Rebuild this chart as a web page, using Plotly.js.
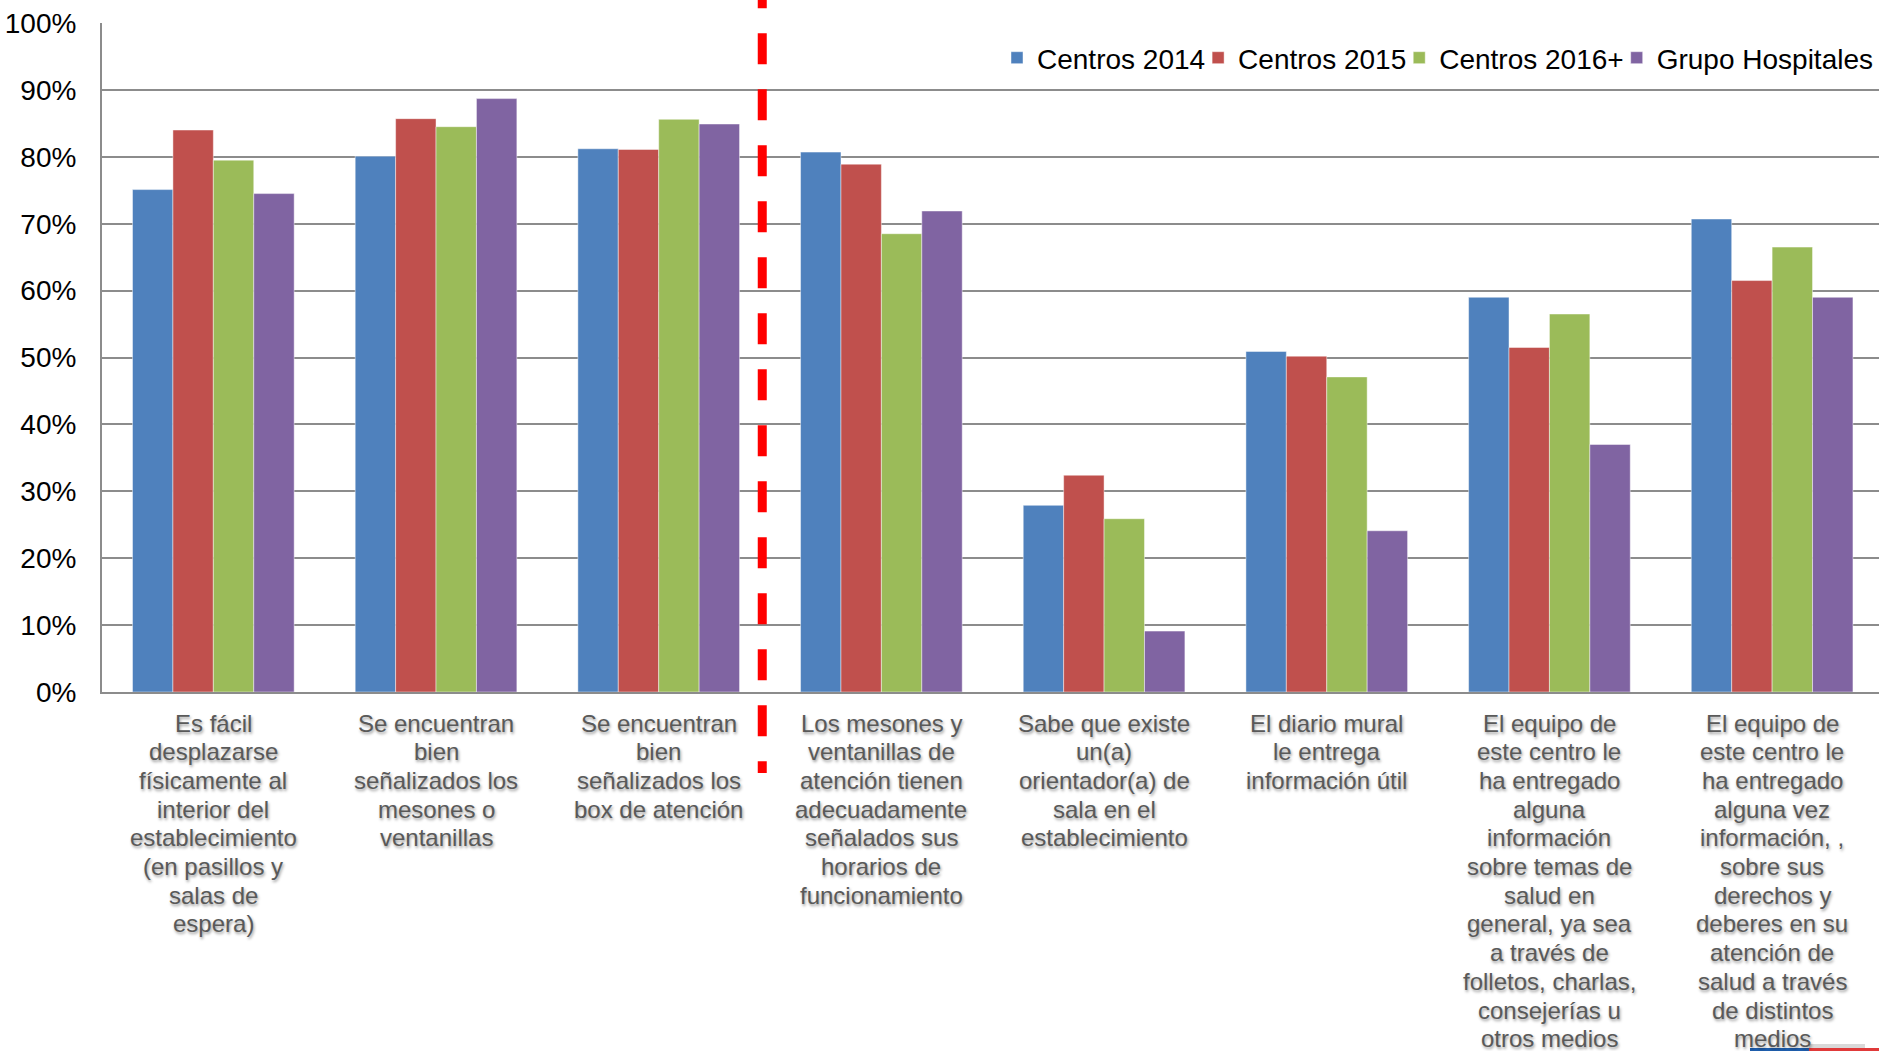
<!DOCTYPE html>
<html>
<head>
<meta charset="utf-8">
<script src="https://cdn.plot.ly/plotly-3.0.1.min.js"></script>
<style>
  html, body { margin: 0; padding: 0; background: #ffffff; }
  #chart { width: 1879px; height: 1051px; }
</style>
</head>
<body>
<div id="chart"></div>
<script>
// Survey items, one wrapped label per group (each entry is a list of lines)
const labelLines = [
  ["Es fácil", "desplazarse", "físicamente al", "interior del", "establecimiento", "(en pasillos y", "salas de", "espera)"],
  ["Se encuentran", "bien", "señalizados los", "mesones o", "ventanillas"],
  ["Se encuentran", "bien", "señalizados los", "box de atención"],
  ["Los mesones y", "ventanillas de", "atención tienen", "adecuadamente", "señalados sus", "horarios de", "funcionamiento"],
  ["Sabe que existe", "un(a)", "orientador(a) de", "sala en el", "establecimiento"],
  ["El diario mural", "le entrega", "información útil"],
  ["El equipo de", "este centro le", "ha entregado", "alguna", "información", "sobre temas de", "salud en", "general, ya sea", "a través de", "folletos, charlas,", "consejerías u", "otros medios"],
  ["El equipo de", "este centro le", "ha entregado", "alguna vez", "información, ,", "sobre sus", "derechos y", "deberes en su", "atención de", "salud a través", "de distintos", "medios"]
];
const categories = labelLines.map(l => l.join(" "));

// Percentages per series
const seriesNames = ["Centros 2014", "Centros 2015", "Centros 2016+", "Grupo Hospitales"];
const centros2014 = [75.1, 80.1, 81.2, 80.7, 27.9, 50.9, 59.0, 70.7];
const centros2015 = [84.0, 85.7, 81.1, 78.9, 32.4, 50.2, 51.5, 61.5];
const centros2016 = [79.5, 84.5, 85.6, 68.5, 25.9, 47.1, 56.5, 66.5];
const hospitales  = [74.5, 88.7, 84.9, 71.9,  9.1, 24.1, 37.0, 59.0];
const seriesValues = [centros2014, centros2015, centros2016, hospitales];
const seriesColors = ["#4F81BD", "#C0504D", "#9BBB59", "#8064A2"];

const yTicks = [0, 10, 20, 30, 40, 50, 60, 70, 80, 90, 100];

const FONT = "Liberation Sans, Arial, Helvetica, sans-serif";

const traces = seriesValues.map((vals, i) => ({
  type: "bar",
  name: seriesNames[i],
  x: categories,
  y: vals,
  marker: {
    color: seriesColors[i],
    line: { color: "rgba(255,255,255,0.45)", width: 1 }
  },
  hoverinfo: "skip"
}));

// Wrapped category labels, one annotation per line below the axis
const LINE_STEP = 28.7;
const FIRST_LINE = 31;
const annotations = [];
labelLines.forEach((lines, ci) => {
  lines.forEach((txt, li) => {
    annotations.push({
      x: categories[ci], xref: "x",
      y: 0, yref: "paper",
      yanchor: "middle", xanchor: "center",
      yshift: -(FIRST_LINE + li * LINE_STEP),
      text: txt,
      showarrow: false,
      font: {
        family: FONT, size: 24, color: "#595959",
        shadow: "1px 2px 3px rgba(0,0,0,0.40)"
      }
    });
  });
});

const gridColor = "#8c8c8c";

const layout = {
  width: 1879,
  height: 1051,
  margin: { l: 102, r: 0, t: 23, b: 359, pad: 0, autoexpand: false },
  paper_bgcolor: "#ffffff",
  plot_bgcolor: "#ffffff",
  barmode: "group",
  bargap: 0.274,
  bargroupgap: 0,
  showlegend: true,
  legend: {
    orientation: "h",
    xref: "paper", x: 1.0, xanchor: "right",
    yref: "paper", y: 0.9477, yanchor: "middle",
    font: { family: FONT, size: 28, color: "#000000" },
    bgcolor: "rgba(0,0,0,0)",
    borderwidth: 0,
    indentation: -12,
    itemclick: false,
    itemdoubleclick: false,
    traceorder: "normal"
  },
  xaxis: {
    type: "category",
    range: [-0.5, 7.48],
    showticklabels: false,
    ticks: "",
    showgrid: false,
    showline: true,
    linecolor: gridColor,
    linewidth: 2,
    zeroline: false,
    fixedrange: true
  },
  yaxis: {
    range: [0, 100],
    tickvals: yTicks,
    ticktext: yTicks.map(v => v + "%"),
    ticks: "",
    ticklabelstandoff: 18,
    tickfont: { family: FONT, size: 28, color: "#000000" },
    showgrid: true,
    gridcolor: gridColor,
    gridwidth: 2,
    showline: true,
    linecolor: gridColor,
    linewidth: 2,
    zeroline: false,
    automargin: false,
    fixedrange: true
  },
  annotations: annotations,
  shapes: [
    // dashed red divider between the first three items and the rest
    {
      type: "line",
      xref: "x", yref: "paper",
      x0: 2.465, x1: 2.465,
      y0: 1.0683, y1: -0.1211,
      line: { color: "#FF0000", width: 9, dash: "31px,25px" }
    },
    // corner stripe
    {
      type: "line", xref: "paper", yref: "paper",
      x0: 0.9274, x1: 0.9606, y0: -0.5351, y1: -0.5351,
      line: { color: "#1F5FAF", width: 4 }
    },
    {
      type: "line", xref: "paper", yref: "paper",
      x0: 0.9606, x1: 1.0, y0: -0.5351, y1: -0.5351,
      line: { color: "#E03A3A", width: 4 }
    },
    {
      type: "line", xref: "paper", yref: "paper",
      x0: 0.9606, x1: 0.9921, y0: -0.5291, y1: -0.5291,
      line: { color: "#D9D9D9", width: 4 }
    }
  ]
};

Plotly.newPlot("chart", traces, layout, { staticPlot: true, displayModeBar: false });
</script>
</body>
</html>
